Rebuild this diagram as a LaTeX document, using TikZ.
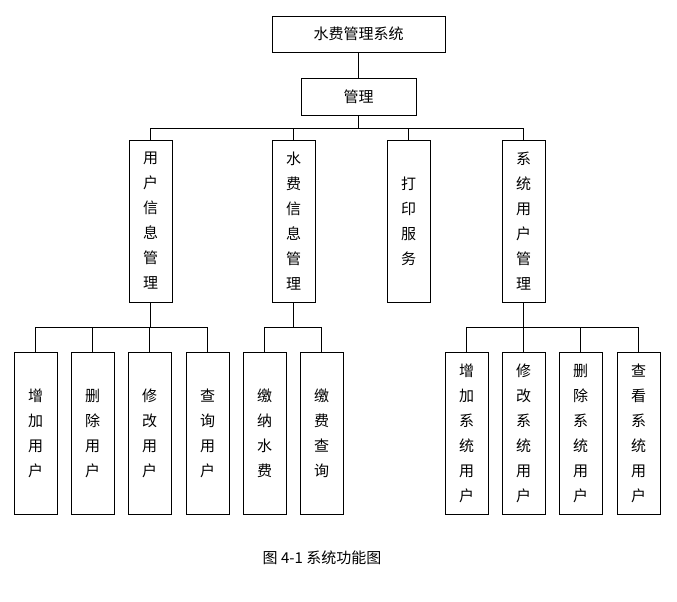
\documentclass[tikz,border=0pt]{standalone}
\usepackage{fontspec}
\newfontfamily\cjk{Noto Sans CJK SC}
\begin{document}
\begin{tikzpicture}[x=1pt,y=-1pt,
  box/.style={draw,line width=0.8pt,inner sep=0pt,font=\cjk\fontsize{15}{25}\selectfont,align=center},
  ln/.style={line width=0.8pt}]
\useasboundingbox (0,0) rectangle (677,602);
\node[box,minimum width=173,minimum height=36] (top) at (358.5,34) {水费管理系统};
\node[box,minimum width=115,minimum height=37] (gl) at (358.5,96.5) {管理};
\foreach \n/\x/\t in {a/150.5/用\\户\\信\\息\\管\\理, b/293.5/水\\费\\信\\息\\管\\理, c/408.5/打\\印\\服\\务, d/523.5/系\\统\\用\\户\\管\\理}
  \node[box,minimum width=43,minimum height=162] (\n) at (\x,221) {\t};
\foreach \n/\x/\t in {a1/35.5/增\\加\\用\\户, a2/92.5/删\\除\\用\\户, a3/149.5/修\\改\\用\\户, a4/207.5/查\\询\\用\\户,
  b1/264.5/缴\\纳\\水\\费, b2/321.5/缴\\费\\查\\询,
  d1/466.5/增\\加\\系\\统\\用\\户, d2/523.5/修\\改\\系\\统\\用\\户, d3/580.5/删\\除\\系\\统\\用\\户, d4/638.5/查\\看\\系\\统\\用\\户}
  \node[box,minimum width=43,minimum height=162] (\n) at (\x,433) {\t};
\draw[ln] (top.south) -- (gl.north);
\draw[ln] (gl.south) -- ++(0,13) coordinate (g);
\draw[ln] (a.north) |- (g) -| (d.north);
\foreach \n in {b,c} \draw[ln] (\n.north) -- (\n.north |- g);
\draw[ln] (a.south) -- ++(0,25) coordinate (ga);
\draw[ln] (a1.north) |- (ga) -| (a4.north);
\foreach \n in {a2,a3} \draw[ln] (\n.north) -- (\n.north |- ga);
\draw[ln] (b.south) -- ++(0,25) coordinate (gb);
\draw[ln] (b1.north) |- (gb) -| (b2.north);
\draw[ln] (d.south) -- ++(0,25) coordinate (gd);
\draw[ln] (d1.north) |- (gd) -| (d4.north);
\foreach \n in {d2,d3} \draw[ln] (\n.north) -- (\n.north |- gd);
\node[font=\cjk\fontsize{15}{16}\selectfont] (cap) at (322,558) {图 4-1 系统功能图};
\end{tikzpicture}
\end{document}
